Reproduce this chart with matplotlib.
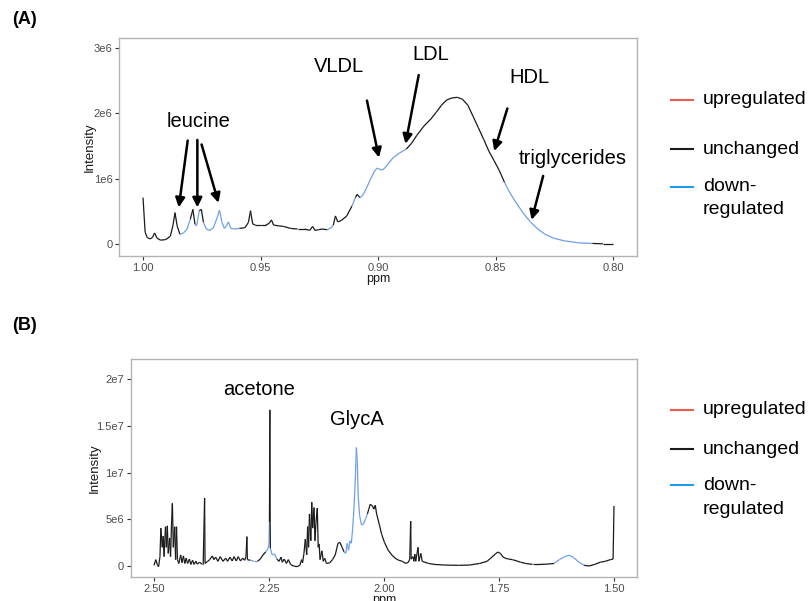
import numpy as np
from matplotlib import pyplot as plt
from matplotlib.collections import LineCollection
from matplotlib.lines import Line2D

plt.rcParams['font.family'] = ['Liberation Sans', 'DejaVu Sans']

# Panel A: 0.80 - 1.00 ppm, lipoprotein region
ppm_a = [1.0000, 0.9991, 0.9982, 0.9970, 0.9960, 0.9951, 0.9940, 0.9925, 0.9903, 0.9884,
         0.9873, 0.9864, 0.9855, 0.9843, 0.9828, 0.9813, 0.9799, 0.9788, 0.9779, 0.9772,
         0.9761, 0.9752, 0.9743, 0.9731, 0.9716, 0.9701, 0.9684, 0.9675, 0.9664, 0.9654,
         0.9645, 0.9637, 0.9627, 0.9612, 0.9590, 0.9567, 0.9552, 0.9543, 0.9534, 0.9522,
         0.9500, 0.9478, 0.9463, 0.9454, 0.9445, 0.9425, 0.9403, 0.9373, 0.9343, 0.9313,
         0.9291, 0.9279, 0.9269, 0.9254, 0.9239, 0.9216, 0.9201, 0.9191, 0.9182, 0.9172,
         0.9157, 0.9134, 0.9112, 0.9097, 0.9090, 0.9078, 0.9067, 0.9052, 0.9033, 0.9015,
         0.9004, 0.8993, 0.8982, 0.8970, 0.8955, 0.8936, 0.8910, 0.8881, 0.8858, 0.8836,
         0.8806, 0.8776, 0.8754, 0.8731, 0.8709, 0.8687, 0.8664, 0.8642, 0.8619, 0.8597,
         0.8575, 0.8552, 0.8530, 0.8507, 0.8485, 0.8463, 0.8440, 0.8410, 0.8381, 0.8351,
         0.8321, 0.8291, 0.8254, 0.8209, 0.8149, 0.8090, 0.8045, 0.8000]
int_a = [0.71, 0.18, 0.10, 0.08, 0.10, 0.17, 0.09, 0.06, 0.07, 0.12,
         0.28, 0.48, 0.28, 0.15, 0.17, 0.23, 0.38, 0.53, 0.30, 0.28,
         0.51, 0.53, 0.33, 0.23, 0.21, 0.25, 0.41, 0.52, 0.33, 0.24,
         0.28, 0.34, 0.24, 0.23, 0.24, 0.25, 0.33, 0.51, 0.31, 0.29,
         0.29, 0.29, 0.32, 0.37, 0.29, 0.28, 0.27, 0.24, 0.23, 0.23,
         0.21, 0.27, 0.21, 0.22, 0.23, 0.22, 0.25, 0.29, 0.43, 0.34,
         0.36, 0.43, 0.58, 0.71, 0.76, 0.71, 0.74, 0.84, 0.99, 1.12,
         1.16, 1.14, 1.13, 1.17, 1.24, 1.32, 1.39, 1.45, 1.54, 1.66,
         1.80, 1.91, 2.01, 2.12, 2.20, 2.23, 2.24, 2.21, 2.12, 1.95,
         1.78, 1.60, 1.42, 1.27, 1.12, 0.94, 0.78, 0.61, 0.46, 0.33,
         0.23, 0.15, 0.09, 0.05, 0.02, 0.01, 0.005, 0.005]  # x 1e6
down_a = [(0.9836, 0.9797), (0.9779, 0.9764), (0.9743, 0.9594), (0.9224, 0.9191),
          (0.9122, 0.9096), (0.9075, 0.8873), (0.8470, 0.8090)]

# Panel B: 1.50 - 2.50 ppm
ppm_b = [2.500, 2.496, 2.493, 2.490, 2.487, 2.485, 2.482, 2.480, 2.478, 2.475,
         2.473, 2.471, 2.469, 2.466, 2.464, 2.462, 2.460, 2.458, 2.455, 2.453,
         2.451, 2.449, 2.446, 2.442, 2.439, 2.436, 2.433, 2.430, 2.427, 2.423,
         2.420, 2.416, 2.413, 2.409, 2.406, 2.401, 2.396, 2.393, 2.390, 2.389,
         2.384, 2.379, 2.373, 2.370, 2.366, 2.361, 2.356, 2.350, 2.344, 2.340,
         2.335, 2.330, 2.326, 2.321, 2.317, 2.312, 2.307, 2.303, 2.300, 2.298,
         2.297, 2.290, 2.283, 2.275, 2.269, 2.263, 2.257, 2.252, 2.250, 2.249,
         2.248, 2.2475, 2.247, 2.243, 2.238, 2.233, 2.228, 2.224, 2.221, 2.217,
         2.212, 2.208, 2.203, 2.197, 2.189, 2.183, 2.179, 2.177, 2.174, 2.171,
         2.168, 2.166, 2.164, 2.162, 2.159, 2.157, 2.155, 2.152, 2.150, 2.148,
         2.145, 2.143, 2.141, 2.139, 2.135, 2.132, 2.129, 2.125, 2.118, 2.112,
         2.106, 2.100, 2.096, 2.091, 2.087, 2.083, 2.080, 2.077, 2.074, 2.071,
         2.068, 2.065, 2.062, 2.060, 2.058, 2.056, 2.053, 2.049, 2.045, 2.040,
         2.036, 2.033, 2.030, 2.025, 2.022, 2.019, 2.016, 2.010, 2.005, 1.999,
         1.991, 1.983, 1.976, 1.968, 1.960, 1.953, 1.947, 1.944, 1.942, 1.941,
         1.937, 1.935, 1.933, 1.931, 1.926, 1.924, 1.920, 1.917, 1.911, 1.903,
         1.891, 1.868, 1.838, 1.815, 1.792, 1.776, 1.768, 1.758, 1.753, 1.747,
         1.741, 1.735, 1.729, 1.721, 1.713, 1.703, 1.692, 1.677, 1.661, 1.646,
         1.630, 1.619, 1.607, 1.598, 1.588, 1.576, 1.565, 1.554, 1.542, 1.530,
         1.519, 1.508, 1.502, 1.500]
int_b = [0.07, 0.68, 0.17, -0.07, 1.00, 4.05, 2.00, 3.20, 1.00, 4.20,
         2.00, 4.30, 1.35, 3.00, 1.00, 4.30, 6.70, 2.00, 4.20, 0.68,
         4.20, 0.68, 0.27, 1.18, 0.34, 1.08, 0.27, 0.84, 0.27, 0.74,
         0.17, 0.61, 0.17, 0.51, 0.20, 0.40, 0.20, 0.20, 7.26, 0.27,
         0.47, 0.68, 1.08, 0.68, 0.95, 0.50, 1.00, 0.50, 0.84, 0.50,
         0.95, 0.54, 1.00, 0.54, 1.00, 0.54, 0.84, 0.61, 1.00, 3.14,
         0.68, 0.61, 0.50, 0.50, 0.74, 1.18, 1.52, 1.86, 2.36, 4.70,
         16.70, 4.70, 1.86, 1.18, 1.28, 0.74, 0.50, 0.95, 0.40, 0.74,
         0.27, 0.68, 0.17, 0.00, -0.07, 0.07, 0.68, 0.34, 1.35, 2.87,
         1.18, 4.22, 2.00, 5.57, 2.70, 6.82, 4.05, 6.25, 2.70, 4.56,
         6.20, 2.00, 2.36, 0.68, 1.62, 0.50, 0.84, 0.27, 0.34, 0.68,
         1.18, 2.43, 2.53, 2.00, 1.52, 1.35, 2.43, 1.69, 2.70, 2.43,
         4.05, 6.42, 9.80, 12.67, 11.10, 7.40, 5.40, 4.40, 4.46, 5.07,
         5.57, 6.08, 6.60, 6.42, 6.08, 6.50, 5.57, 4.40, 3.38, 2.53,
         1.69, 1.18, 0.84, 0.61, 0.50, 0.27, 0.40, 0.74, 4.80, 0.74,
         1.00, 0.50, 1.28, 0.50, 2.00, 0.50, 1.35, 0.50, 0.40, 0.27,
         0.17, 0.10, 0.07, 0.10, 0.27, 0.50, 0.84, 1.28, 1.49, 1.35,
         0.95, 0.81, 0.74, 0.68, 0.57, 0.40, 0.27, 0.17, 0.17, 0.20,
         0.27, 0.68, 1.00, 1.15, 0.91, 0.40, 0.07, 0.00, 0.17, 0.40,
         0.50, 0.68, 0.74, 6.42]  # x 1e6
down_b = [(2.287, 2.275), (2.258, 2.2493), (2.2468, 2.233), (2.085, 2.036), (1.630, 1.569)]

legend_labels = ['upregulated', 'unchanged', 'down-\nregulated']
legend_colors = ['#F25C4D', '#1a1a1a', '#1E9BF0']

black = '#1a1a1a'
blue = '#6E9FE8'


def draw_spectrum(ax, x, y, down):
    x = np.array(x)
    y = np.array(y) * 1e6
    pts = np.column_stack([x, y])
    segs = np.stack([pts[:-1], pts[1:]], axis=1)
    mid = (x[:-1] + x[1:]) / 2
    cols = [blue if any(hi <= m <= lo for lo, hi in down) else black for m in mid]
    ax.add_collection(LineCollection(segs, colors=cols, linewidths=0.9))


def style_axis(ax, ylab_x, xlab_y):
    for s in ax.spines.values():
        s.set_color('#b3b3b3')
        s.set_linewidth(1.0)
    ax.tick_params(labelsize=8, colors='#4d4d4d', length=3, width=0.8, pad=2)
    ax.tick_params(color='#333333')
    ax.set_ylabel('Intensity', fontsize=9.5, color='#1a1a1a')
    ax.set_xlabel('ppm', fontsize=9, color='#1a1a1a')
    ax.yaxis.set_label_coords(ylab_x, 0.5)
    ax.xaxis.set_label_coords(0.5, xlab_y)


def arrow(ax, x0, y0, x1, y1):
    ax.annotate('', xy=(x1, y1), xytext=(x0, y0),
                arrowprops=dict(arrowstyle='-|>', color='black', lw=1.8,
                                mutation_scale=14, shrinkA=0, shrinkB=0))


fig = plt.figure(figsize=(8.09, 6.01), dpi=100)

# ---- Panel A
axA = fig.add_axes([0.1477, 0.5745, 0.6397, 0.3628])
draw_spectrum(axA, ppm_a, int_a, down_a)
axA.set_xlim(1.01, 0.79)
axA.set_ylim(-0.177e6, 3.15e6)
axA.set_xticks([1.00, 0.95, 0.90, 0.85, 0.80])
axA.set_xticklabels(['1.00', '0.95', '0.90', '0.85', '0.80'])
axA.set_yticks([0, 1e6, 2e6, 3e6])
axA.set_yticklabels(['0', '1e6', '2e6', '3e6'])
style_axis(axA, -0.045, -0.08)

axA.text(0.9764, 1.87e6, 'leucine', fontsize=14.5, ha='center', va='center')
arrow(axA, 0.9810, 1.58e6, 0.9848, 0.56e6)
arrow(axA, 0.9769, 1.59e6, 0.9769, 0.56e6)
arrow(axA, 0.9751, 1.52e6, 0.9679, 0.63e6)
axA.text(0.9167, 2.71e6, 'VLDL', fontsize=14.5, ha='center', va='center')
arrow(axA, 0.9048, 2.19e6, 0.8997, 1.32e6)
axA.text(0.8776, 2.90e6, 'LDL', fontsize=14.5, ha='center', va='center')
arrow(axA, 0.8828, 2.58e6, 0.8884, 1.53e6)
axA.text(0.8358, 2.55e6, 'HDL', fontsize=14.5, ha='center', va='center')
arrow(axA, 0.8451, 2.07e6, 0.8507, 1.42e6)
axA.text(0.8175, 1.30e6, 'triglycerides', fontsize=14.5, ha='center', va='center')
arrow(axA, 0.8299, 1.04e6, 0.8348, 0.37e6)

# ---- Panel B
axB = fig.add_axes([0.1619, 0.0399, 0.6255, 0.3627])
draw_spectrum(axB, ppm_b, int_b, down_b)
axB.set_xlim(2.55, 1.45)
axB.set_ylim(-1.18e6, 2.214e7)
axB.set_xticks([2.50, 2.25, 2.00, 1.75, 1.50])
axB.set_xticklabels(['2.50', '2.25', '2.00', '1.75', '1.50'])
axB.set_yticks([0, 5e6, 1e7, 1.5e7, 2e7])
axB.set_yticklabels(['0', '5e6', '1e7', '1.5e7', '2e7'])
style_axis(axB, -0.06, -0.076)

axB.text(2.271, 1.885e7, 'acetone', fontsize=14.5, ha='center', va='center')
axB.text(2.060, 1.57e7, 'GlycA', fontsize=14.5, ha='center', va='center')

# panel tags
fig.text(0.015, 1 - 20 / 601, '(A)', fontsize=13, fontweight='bold', va='center')
fig.text(0.015, 1 - 325 / 601, '(B)', fontsize=13, fontweight='bold', va='center')

# manual legends next to each panel
for ys in ([100, 149, 187, 210], [410, 449, 485, 510]):
    for i in range(3):
        y = 1 - ys[i] / 601
        fig.add_artist(Line2D([0.8294, 0.8566], [y, y], color=legend_colors[i], lw=1.5))
        fig.text(0.869, y, legend_labels[i].split('\n')[0], fontsize=14, va='center')
    fig.text(0.869, 1 - ys[3] / 601, 'regulated', fontsize=14, va='center')

plt.savefig('out.png', dpi=100)
